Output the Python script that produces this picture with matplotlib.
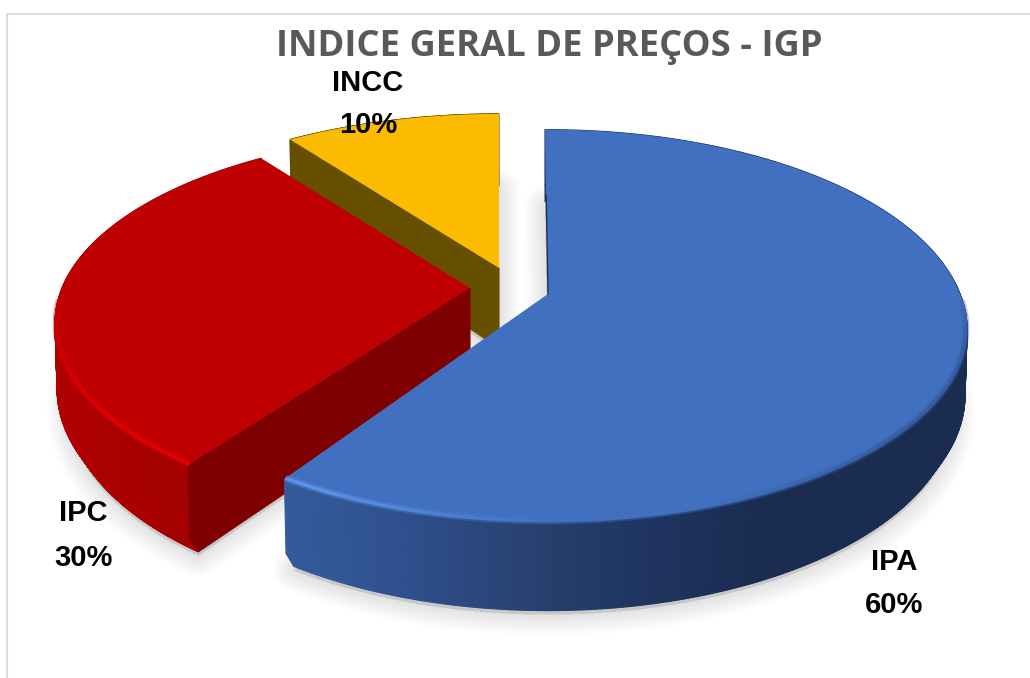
import numpy as np
import matplotlib
matplotlib.use('Agg')
import matplotlib.pyplot as plt
from matplotlib.colors import to_rgb
from matplotlib.collections import PolyCollection, LineCollection

# chart data
labels = ['IPA', 'IPC', 'INCC']
shares = [60, 30, 10]

top_colors = ['#4170c0', '#bf0000', '#fbbb00']
side_colors = ['#1d2f55', '#7f0000', '#665000']
centers = [(548, 294), (470, 288), (499, 268)]   # exploded apex of each slice, pixels

# small per-slice corrections of the projection
back_scale = [1.045, 0.99, 0.98]
wide_scale = [1.01, 1.0, 1.0]
sweep_scale = [0.985, 1.0, 1.0]

# rim gradient stops (x pixel, colour) and bevel highlight colours
rim_stops = [
    ([280, 400, 520, 640, 760, 970], ['#355b9c', '#2f508e', '#284372', '#1f3561', '#1a2c50', '#1a2c50']),
    ([50, 190], ['#b00000', '#a20000']),
    ([290, 500], ['#665000', '#665000']),
]
bevel_colors = ['#5c92ea', '#e60000', '#fbbb00']

# projection of the tilted pie
SX, SY, PERSP, DEPTH = 408, 186, 0.183, 80


def project(i, theta, r=1.0, z=0.0):
    u = r * np.sin(theta)
    v = -r * np.cos(theta)
    k = 1 - PERSP * v
    sy = np.where(v < 0, SY * back_scale[i], SY)
    return centers[i][0] + SX * wide_scale[i] * u / k, centers[i][1] + sy * v / k + DEPTH * z / k


def mix(c1, c2, t):
    a, b = np.array(to_rgb(c1)), np.array(to_rgb(c2))
    return a + (b - a) * t


def grad(x, stops):
    xs, cols = stops
    rgb = np.array([to_rgb(c) for c in cols])
    return np.array([np.interp(x, xs, rgb[:, i]) for i in range(3)]).T


fracs = np.array(shares) / np.sum(shares)
ends = np.cumsum(fracs) * 2 * np.pi
starts = ends - fracs * 2 * np.pi
ends = starts + (ends - starts) * np.array(sweep_scale)
starts = starts - np.radians([0.5, 0, 0])

fig = plt.figure(figsize=(10.30, 6.78), dpi=100)
ax = fig.add_axes([0, 0, 1, 1])
ax.set_xlim(0, 1030)
ax.set_ylim(678, 0)
ax.axis('off')

# frame of the chart area
ax.plot([7, 7, 1030], [678, 14, 14], color='#dcdcdc', lw=1.5, zorder=0)

# soft shadow under each slice
for i in range(3):
    th = np.linspace(starts[i], ends[i], 200)
    x, y = project(i, th, r=0.97, z=1)
    px = np.r_[centers[i][0], x]
    py = np.r_[centers[i][1] + DEPTH, y] + 4
    for w in np.linspace(30, 2, 14):
        ax.fill(px, py, facecolor='#000000', edgecolor='#000000', lw=w, alpha=0.009,
                joinstyle='round', zorder=1)

# slices from back to front
for z, i in enumerate([2, 1, 0]):
    c = centers[i]
    base = 2 + z * 5
    th = np.linspace(starts[i], ends[i], 400)

    # radial side wall, only the two back slices show one
    if i != 0:
        rx, ry = project(i, th[0], z=0)
        rx2, ry2 = project(i, th[0], r=0.995, z=0.8)
        rx3, ry3 = project(i, th[0], r=0.97, z=1)
        ax.fill([c[0], rx, rx2, rx3, c[0]], [c[1], ry, ry2, ry3, c[1] + DEPTH],
                color=side_colors[i], lw=0.8, zorder=base + 1.5)

    # outer rim built from small quads, rounded towards the bottom edge
    xt, yt = project(i, th, z=0)
    fc = grad((xt[:-1] + xt[1:]) / 2, rim_stops[i])
    for (r0, z0), (r1, z1) in [((1, 0), (0.995, 0.8)), ((0.995, 0.8), (0.97, 1))]:
        xa, ya = project(i, th, r=r0, z=z0)
        xb, yb = project(i, th, r=r1, z=z1)
        quads = [[(xa[j], ya[j]), (xa[j + 1], ya[j + 1]), (xb[j + 1], yb[j + 1]), (xb[j], yb[j])]
                 for j in range(len(th) - 1)]
        ax.add_collection(PolyCollection(quads, facecolors=fc, edgecolors=fc, linewidths=0.8, zorder=base + 1))

    # flat top face
    ax.fill(np.r_[c[0], xt], np.r_[c[1], yt], color=top_colors[i], lw=0, zorder=base + 2)

    # bevel highlight on the front edge, wide faint stroke under a narrow one
    if i < 2:
        bx, by = project(i, th, r=0.997, z=0.0)
        segs = [[(bx[j], by[j]), (bx[j + 1], by[j + 1])] for j in range(len(th) - 1)]
        if i == 0:
            front = np.clip((560 - xt[:-1]) / 240, 0, 1)
            dark = np.clip((xt[:-1] - 700) / 200, 0, 1) * np.clip((yt[:-1] - 280) / 60, 0, 1)
            cols = [mix(top_colors[0], bevel_colors[0], f) * (1 - d) + mix(top_colors[0], '#1d2f55', 0.3) * d
                    for f, d in zip(front, dark)]
            show = yt[:-1] > 300
        else:
            front = np.clip((yt[:-1] - 300) / 120, 0, 1)
            cols = [mix(top_colors[1], bevel_colors[1], f) for f in front]
            show = front > 0
        segs = [s for s, keep in zip(segs, show) if keep]
        cols = [col for col, keep in zip(cols, show) if keep]
        soft = [(*col, 0.4) for col in cols]
        ax.add_collection(LineCollection(segs, colors=soft, linewidths=5.0, zorder=base + 3))
        ax.add_collection(LineCollection(segs, colors=cols, linewidths=2.4, zorder=base + 3))

# dark sliver along the first edge of the largest slice
ex, ey = project(0, starts[0])
ax.plot([centers[0][0], centers[0][0] + 0.6 * (ex - centers[0][0])],
        [centers[0][1], centers[0][1] + 0.6 * (ey - centers[0][1])],
        color='#1d2f55', lw=1.0, zorder=20)

# text
ax.text(549, 47, 'INDICE GERAL DE PREÇOS - IGP', family='Open Sans', weight='bold', fontsize=26.2,
        color='#595959', ha='center', va='center', zorder=30)

label_pos = [(894, 562, 605), (83, 513, 558), (368, 83, 125)]
for name, share, (lx, ly1, ly2) in zip(labels, shares, label_pos):
    ax.text(lx, ly1, name, family='Liberation Sans', weight='bold', fontsize=21,
            color='black', ha='center', va='center', zorder=30)
    ax.text(lx, ly2, f'{share}%', family='Liberation Sans', weight='bold', fontsize=21,
            color='black', ha='center', va='center', zorder=30)

fig.savefig('out.png', dpi=100, facecolor='white')
